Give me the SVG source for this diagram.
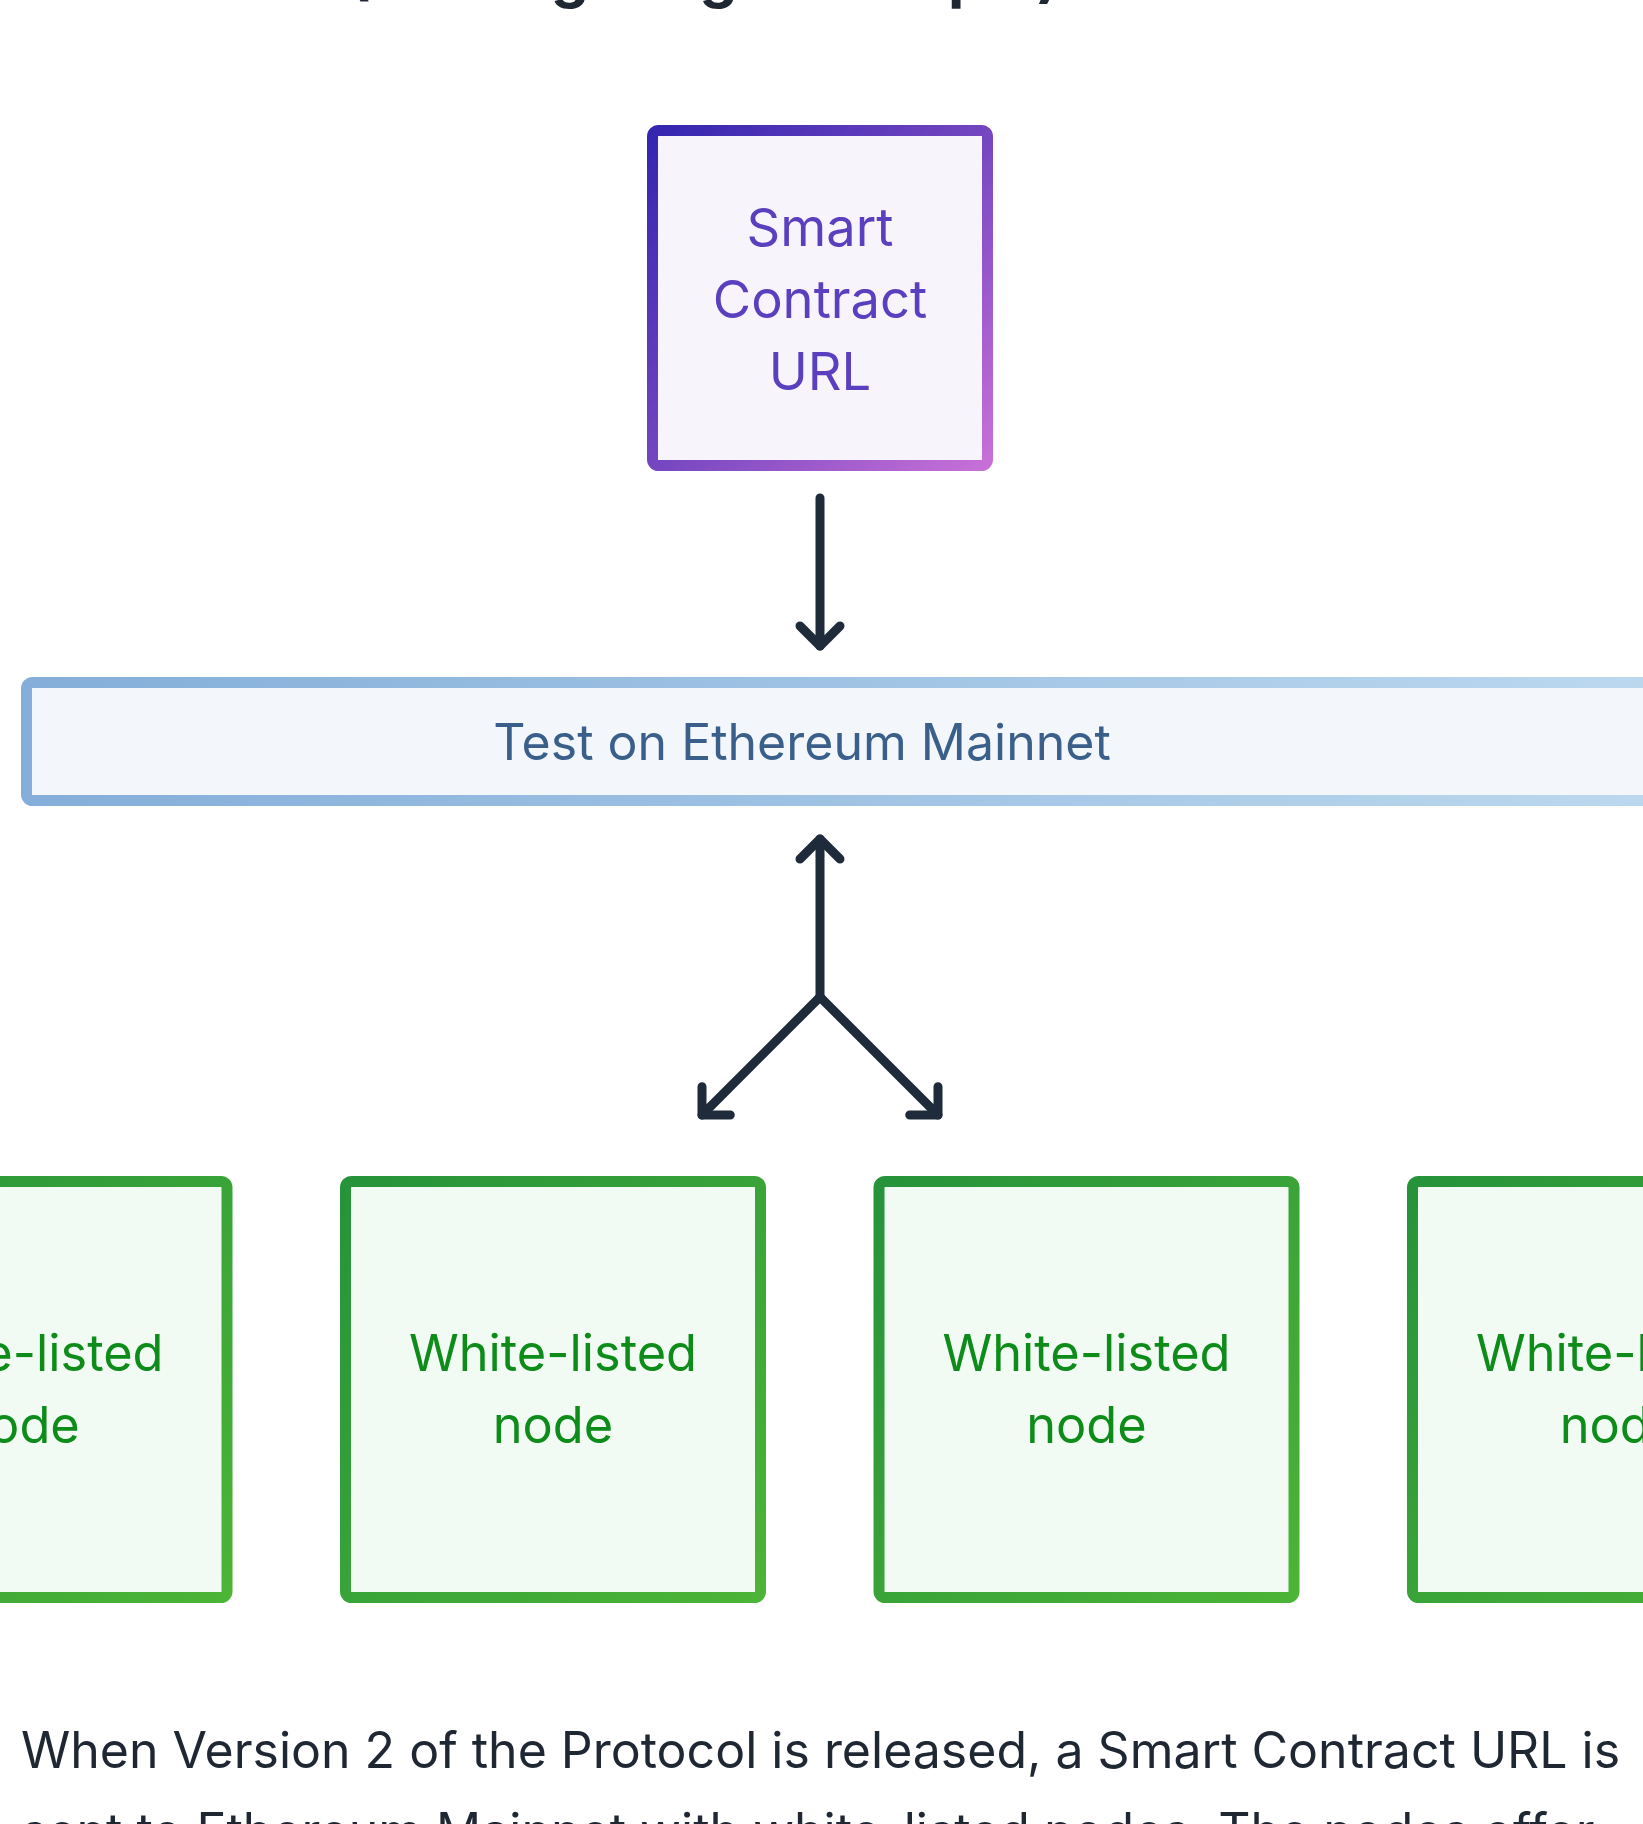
<svg xmlns="http://www.w3.org/2000/svg" width="1643" height="1824" viewBox="0 0 1643 1824">
  <defs>
    <linearGradient id="gPurple" x1="0" y1="0" x2="1" y2="1">
      <stop offset="0" stop-color="#3426b0"/>
      <stop offset="0.5" stop-color="#7446c0"/>
      <stop offset="1" stop-color="#c870d8"/>
    </linearGradient>
    <linearGradient id="gBlue" x1="0" y1="0" x2="1" y2="0">
      <stop offset="0" stop-color="#84aed9"/>
      <stop offset="1" stop-color="#bedaf0"/>
    </linearGradient>
    <linearGradient id="gGreen" x1="0" y1="0" x2="1" y2="1">
      <stop offset="0" stop-color="#26933a"/>
      <stop offset="1" stop-color="#4cb436"/>
    </linearGradient>
    <marker id="chev" markerUnits="userSpaceOnUse" viewBox="-30 -30 40 60" markerWidth="40" markerHeight="60" refX="0" refY="0" orient="auto">
      <path d="M-20,-20 L0,0 L-20,20" fill="none" stroke="#1f2a3a" stroke-width="9" stroke-linecap="round" stroke-linejoin="round"/>
    </marker>
  </defs>
  <style>
    .t { font-family: Inter, "Liberation Sans", sans-serif; }
    .purple rect { fill: #f7f4fb; stroke: url(#gPurple); stroke-width: 11; }
    .purple text { fill: #5a3fbf; font-size: 52.5px; text-anchor: middle; }
    .blue rect { fill: #f3f6fa; stroke: url(#gBlue); stroke-width: 11; }
    .blue text { fill: #3a5f8a; font-size: 50px; text-anchor: middle; }
    .green rect { fill: #f2faf4; stroke: url(#gGreen); stroke-width: 11; }
    .green text { fill: #0d8c19; font-size: 50.5px; text-anchor: middle; }
    .conn path { fill: none; stroke: #1f2a3a; stroke-width: 9; stroke-linecap: round; marker-end: url(#chev); }
    .body { fill: #1f2733; font-size: 50px; }
  </style>
  <rect width="1643" height="1824" fill="#ffffff"/>
  <text class="t" x="348" y="-4" font-size="60" font-weight="700" fill="#1f2733">(Testing Stage Example)</text>

  <g id="smart-contract-url" class="purple t">
    <rect x="652.5" y="130.5" width="335" height="335" rx="6"/>
    <text x="820" y="246">Smart</text>
    <text x="820" y="318">Contract</text>
    <text x="820" y="390">URL</text>
  </g>

  <g id="test-mainnet" class="blue t">
    <rect x="26.5" y="682.5" width="1700" height="118" rx="6"/>
    <text x="802" y="760">Test on Ethereum Mainnet</text>
  </g>

  <g id="node-1" class="green t">
    <rect x="-188" y="1181.5" width="415" height="416" rx="6"/>
    <text x="19.5" y="1371">White-listed</text>
    <text x="19.5" y="1443">node</text>
  </g>
  <g id="node-2" class="green t">
    <rect x="345.5" y="1181.5" width="415" height="416" rx="6"/>
    <text x="553" y="1371">White-listed</text>
    <text x="553" y="1443">node</text>
  </g>
  <g id="node-3" class="green t">
    <rect x="879" y="1181.5" width="415" height="416" rx="6"/>
    <text x="1086.5" y="1371">White-listed</text>
    <text x="1086.5" y="1443">node</text>
  </g>
  <g id="node-4" class="green t">
    <rect x="1412.5" y="1181.5" width="415" height="416" rx="6"/>
    <text x="1620" y="1371">White-listed</text>
    <text x="1620" y="1443">node</text>
  </g>

  <g id="connectors" class="conn">
    <path d="M820,498 L820,646"/>
    <path d="M820,997 L820,839"/>
    <path d="M820,997 L702,1115"/>
    <path d="M820,997 L938,1115"/>
  </g>

  <text class="t body" x="21" y="1768">When Version 2 of the Protocol is released, a Smart Contract URL is</text>
  <text class="t body" x="21" y="1849">sent to Ethereum Mainnet with white-listed nodes. The nodes offer</text>
</svg>
